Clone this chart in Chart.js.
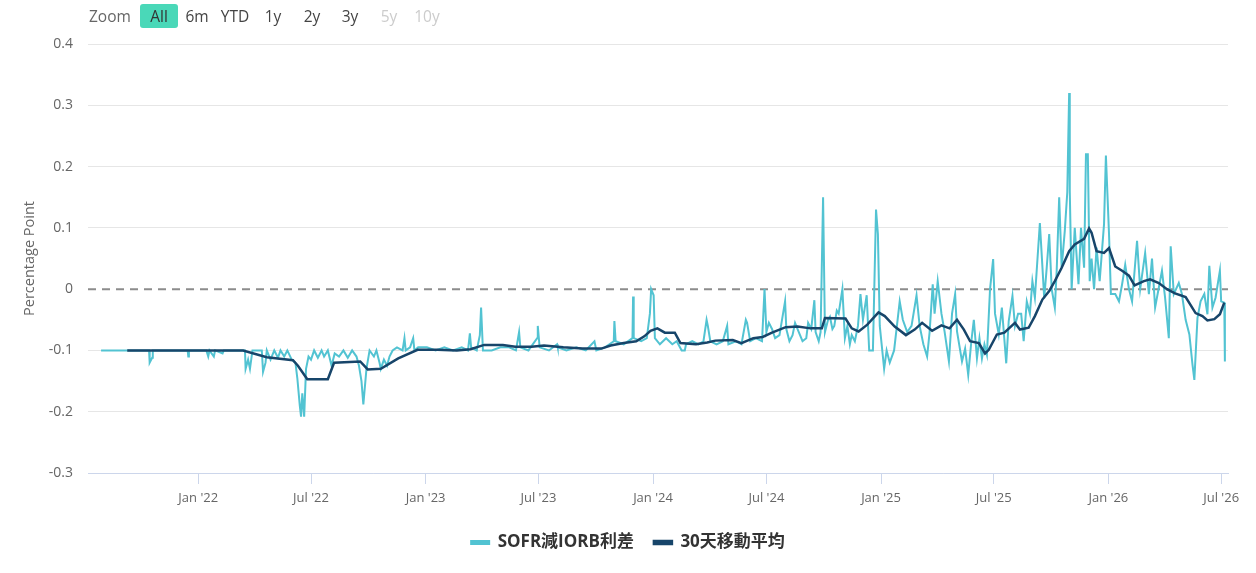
<!DOCTYPE html>
<html>
<head>
<meta charset="utf-8">
<script src="https://cdn.jsdelivr.net/npm/chart.js@4.4.0/dist/chart.umd.min.js"></script>
<style>
  body { margin: 0; background: #fff; font-family: "Open Sans", "Noto Sans CJK TC", sans-serif; }
  #wrap { position: relative; width: 1256px; height: 573px; }
  #zoom { position: absolute; left: 0; top: 0; width: 500px; height: 32px; font-size: 15.5px; color: #666; }
  #zoom span { position: absolute; top: 4px; height: 24px; line-height: 24px; text-align: center; }
  #zoom .btn { width: 38px; margin-left: -19px; border-radius: 3px; color: #444; }
  #zoom .on { background: #4ad8b8; color: #333; }
  #zoom .off { color: #ccc; }
</style>
</head>
<body>
<div id="wrap">
  <canvas id="c" width="1256" height="573"></canvas>
  <div id="zoom">
    <span style="left:89px">Zoom</span>
    <span class="btn on" style="left:159px">All</span>
    <span class="btn" style="left:197px">6m</span>
    <span class="btn" style="left:235px">YTD</span>
    <span class="btn" style="left:273px">1y</span>
    <span class="btn" style="left:312px">2y</span>
    <span class="btn" style="left:350px">3y</span>
    <span class="btn off" style="left:389px">5y</span>
    <span class="btn off" style="left:427px">10y</span>
  </div>
</div>
<script>
// SOFR minus IORB, percentage points
var spreadDates = [
  "2021-07-29","2021-10-14","2021-10-15","2021-10-19","2021-10-20","2021-12-15","2021-12-16","2021-12-17",
  "2022-01-14","2022-01-17","2022-01-19","2022-01-26","2022-01-28","2022-02-09","2022-02-11","2022-03-17",
  "2022-03-18","2022-03-22","2022-03-25","2022-03-29","2022-04-13","2022-04-15","2022-04-19","2022-04-21",
  "2022-04-27","2022-05-03","2022-05-09","2022-05-13","2022-05-19","2022-05-24","2022-05-31","2022-06-06",
  "2022-06-09","2022-06-13","2022-06-15","2022-06-17","2022-06-20","2022-06-23","2022-06-27","2022-07-01",
  "2022-07-06","2022-07-12","2022-07-18","2022-07-22","2022-07-28","2022-08-03","2022-08-08","2022-08-15",
  "2022-08-22","2022-08-29","2022-09-05","2022-09-12","2022-09-16","2022-09-20","2022-09-23","2022-09-28",
  "2022-10-03","2022-10-10","2022-10-14","2022-10-19","2022-10-21","2022-10-26","2022-10-31","2022-11-04",
  "2022-11-09","2022-11-16","2022-11-25","2022-11-28","2022-11-30","2022-12-07","2022-12-12","2022-12-14",
  "2022-12-20","2023-01-03","2023-01-17","2023-01-31","2023-02-14","2023-02-28","2023-03-10","2023-03-13",
  "2023-03-15","2023-03-24","2023-03-29","2023-03-31","2023-04-03","2023-04-17","2023-05-01","2023-05-15",
  "2023-05-26","2023-05-31","2023-06-02","2023-06-15","2023-06-29","2023-06-30","2023-07-03","2023-07-18",
  "2023-07-31","2023-08-01","2023-08-15","2023-08-31","2023-09-15","2023-09-29","2023-10-02","2023-10-16",
  "2023-10-30","2023-10-31","2023-11-02","2023-11-15","2023-11-29","2023-11-30","2023-12-01","2023-12-13",
  "2023-12-22","2023-12-27","2023-12-29","2024-01-02","2024-01-04","2024-01-12","2024-01-22","2024-02-01",
  "2024-02-08","2024-02-16","2024-02-21","2024-02-23","2024-03-04","2024-03-14","2024-03-22","2024-03-27",
  "2024-03-29","2024-04-02","2024-04-12","2024-04-22","2024-04-29","2024-05-01","2024-05-13","2024-05-22",
  "2024-05-29","2024-05-31","2024-06-05","2024-06-14","2024-06-24","2024-06-28","2024-07-01","2024-07-05",
  "2024-07-10","2024-07-15","2024-07-22","2024-07-31","2024-08-02","2024-08-07","2024-08-12","2024-08-16",
  "2024-08-22","2024-08-28","2024-09-03","2024-09-06","2024-09-11","2024-09-16","2024-09-18","2024-09-23",
  "2024-09-26","2024-09-30","2024-10-03","2024-10-08","2024-10-11","2024-10-15","2024-10-18","2024-10-22",
  "2024-10-25","2024-10-31","2024-11-04","2024-11-08","2024-11-12","2024-11-15","2024-11-20","2024-11-25",
  "2024-11-29","2024-12-03","2024-12-09","2024-12-13","2024-12-19","2024-12-24","2024-12-27","2024-12-30",
  "2025-01-06","2025-01-10","2025-01-15","2025-01-22","2025-01-31","2025-02-05","2025-02-12","2025-02-19",
  "2025-02-27","2025-03-04","2025-03-10","2025-03-16","2025-03-20","2025-03-25","2025-03-28","2025-04-02",
  "2025-04-08","2025-04-13","2025-04-20","2025-04-25","2025-04-30","2025-05-03","2025-05-11","2025-05-16",
  "2025-05-21","2025-05-26","2025-05-30","2025-06-04","2025-06-08","2025-06-12","2025-06-16","2025-06-20",
  "2025-06-25","2025-06-30","2025-07-03","2025-07-09","2025-07-14","2025-07-21","2025-07-25","2025-07-31",
  "2025-08-04","2025-08-09","2025-08-14","2025-08-18","2025-08-23","2025-08-28","2025-09-01","2025-09-05",
  "2025-09-13","2025-09-20","2025-09-24","2025-09-28","2025-10-02","2025-10-07","2025-10-10","2025-10-14",
  "2025-10-18","2025-10-23","2025-10-27","2025-10-30","2025-10-31","2025-11-03","2025-11-08","2025-11-14",
  "2025-11-18","2025-11-23","2025-11-26","2025-11-29","2025-12-02","2025-12-05","2025-12-09","2025-12-13",
  "2025-12-18","2025-12-25","2025-12-28","2026-01-02","2026-01-05","2026-01-12","2026-01-18","2026-01-23",
  "2026-01-28","2026-02-03","2026-02-08","2026-02-16","2026-02-21","2026-03-01","2026-03-07","2026-03-12",
  "2026-03-17","2026-03-28","2026-04-02","2026-04-08","2026-04-11","2026-04-16","2026-04-24","2026-04-29",
  "2026-05-05","2026-05-11","2026-05-16","2026-05-19","2026-05-24","2026-05-29","2026-06-04","2026-06-09",
  "2026-06-12","2026-06-17","2026-06-22","2026-06-29","2026-07-01","2026-07-06","2026-07-07"
];
var spreadValues = [
  -0.100,-0.100,-0.120,-0.112,-0.100,-0.100,-0.110,-0.100,
  -0.100,-0.110,-0.100,-0.110,-0.100,-0.105,-0.100,-0.100,
  -0.130,-0.115,-0.130,-0.100,-0.100,-0.135,-0.120,-0.100,
  -0.115,-0.100,-0.112,-0.100,-0.110,-0.100,-0.115,-0.120,
  -0.145,-0.190,-0.208,-0.170,-0.208,-0.130,-0.110,-0.115,
  -0.100,-0.112,-0.100,-0.110,-0.100,-0.125,-0.105,-0.110,
  -0.100,-0.112,-0.100,-0.110,-0.125,-0.150,-0.188,-0.130,
  -0.100,-0.110,-0.100,-0.120,-0.130,-0.115,-0.125,-0.110,
  -0.100,-0.095,-0.100,-0.080,-0.100,-0.095,-0.080,-0.100,
  -0.095,-0.095,-0.100,-0.095,-0.100,-0.095,-0.100,-0.072,
  -0.095,-0.100,-0.075,-0.030,-0.100,-0.100,-0.095,-0.095,
  -0.100,-0.070,-0.095,-0.100,-0.080,-0.060,-0.095,-0.100,
  -0.090,-0.095,-0.100,-0.095,-0.100,-0.085,-0.100,-0.095,
  -0.085,-0.052,-0.085,-0.090,-0.080,-0.012,-0.080,-0.085,
  -0.080,-0.040,0.000,-0.010,-0.080,-0.090,-0.080,-0.090,
  -0.085,-0.100,-0.100,-0.090,-0.085,-0.090,-0.085,-0.050,
  -0.060,-0.085,-0.090,-0.085,-0.060,-0.090,-0.085,-0.090,
  -0.050,-0.055,-0.085,-0.080,-0.085,0.000,-0.070,-0.055,
  -0.065,-0.080,-0.075,-0.020,-0.065,-0.085,-0.075,-0.055,
  -0.070,-0.085,-0.080,-0.055,-0.065,-0.018,-0.070,-0.085,
  -0.070,0.150,-0.070,-0.050,-0.045,-0.065,-0.060,-0.035,
  -0.040,0.000,-0.080,-0.060,-0.090,-0.075,-0.085,-0.060,
  -0.008,-0.050,-0.010,-0.100,-0.100,0.130,0.090,-0.060,
  -0.130,-0.100,-0.120,-0.100,-0.020,-0.050,-0.070,-0.060,
  -0.010,-0.060,-0.090,-0.110,-0.070,0.008,-0.040,0.013,
  -0.040,-0.069,-0.118,-0.040,-0.008,-0.069,-0.118,-0.097,
  -0.140,-0.085,-0.050,-0.113,-0.080,-0.113,-0.090,-0.107,
  0.000,0.049,-0.040,-0.074,-0.030,-0.121,-0.052,-0.011,
  -0.060,-0.040,-0.040,-0.085,-0.020,-0.040,0.013,-0.014,
  0.108,-0.015,0.035,0.090,0.000,-0.030,0.030,0.150,
  0.035,0.095,0.158,0.320,0.160,0.000,0.100,0.008,
  0.100,0.035,0.220,0.220,0.013,0.050,0.000,0.068,
  0.013,0.106,0.218,0.090,-0.008,-0.008,-0.020,0.008,
  0.040,0.000,-0.020,0.079,0.000,0.059,-0.008,0.050,
  -0.030,0.030,-0.014,-0.080,0.070,-0.008,0.010,-0.008,
  -0.050,-0.074,-0.123,-0.148,-0.047,-0.020,-0.008,-0.041,
  0.038,-0.030,-0.014,0.030,-0.020,-0.022,-0.118
];

// 30-day moving average
var meanDates = [
  "2021-09-09","2022-03-14","2022-04-21","2022-06-02","2022-06-10","2022-06-25","2022-07-28","2022-08-07",
  "2022-09-18","2022-09-30","2022-10-21","2022-11-18","2022-12-19","2023-01-20","2023-02-20","2023-03-14",
  "2023-04-05","2023-05-05","2023-05-25","2023-06-20","2023-07-10","2023-08-10","2023-09-10","2023-10-10",
  "2023-10-25","2023-11-15","2023-12-05","2023-12-18","2023-12-28","2024-01-08","2024-01-20","2024-02-05",
  "2024-02-14","2024-03-10","2024-03-28","2024-04-10","2024-05-08","2024-05-22","2024-06-10","2024-06-25",
  "2024-07-10","2024-08-01","2024-08-20","2024-09-10","2024-09-28","2024-10-03","2024-11-05","2024-11-15",
  "2024-11-26","2024-12-10","2024-12-28","2025-01-07","2025-01-23","2025-02-10","2025-02-24","2025-03-08",
  "2025-03-24","2025-04-08","2025-04-21","2025-05-03","2025-05-14","2025-05-24","2025-06-07","2025-06-17",
  "2025-06-23","2025-07-06","2025-07-18","2025-08-04","2025-08-12","2025-08-26","2025-09-05","2025-09-17",
  "2025-09-28","2025-10-07","2025-10-18","2025-10-30","2025-11-08","2025-11-23","2025-12-01","2025-12-05",
  "2025-12-13","2025-12-25","2026-01-02","2026-01-12","2026-01-23","2026-02-03","2026-02-12","2026-02-27",
  "2026-03-09","2026-03-23","2026-04-05","2026-04-18","2026-05-05","2026-05-21","2026-06-01","2026-06-09",
  "2026-06-20","2026-06-29","2026-07-06"
];
var meanValues = [
  -0.100,-0.100,-0.111,-0.116,-0.125,-0.147,-0.147,-0.120,
  -0.118,-0.131,-0.130,-0.113,-0.099,-0.099,-0.100,-0.098,
  -0.091,-0.091,-0.094,-0.094,-0.092,-0.095,-0.097,-0.097,
  -0.092,-0.088,-0.085,-0.077,-0.068,-0.064,-0.071,-0.071,
  -0.088,-0.090,-0.087,-0.084,-0.083,-0.088,-0.080,-0.078,
  -0.071,-0.062,-0.061,-0.064,-0.064,-0.047,-0.048,-0.064,
  -0.069,-0.058,-0.038,-0.044,-0.061,-0.075,-0.066,-0.055,
  -0.068,-0.059,-0.064,-0.050,-0.066,-0.085,-0.088,-0.105,
  -0.099,-0.074,-0.071,-0.055,-0.066,-0.063,-0.044,-0.017,
  -0.003,0.013,0.035,0.062,0.073,0.082,0.099,0.092,
  0.062,0.059,0.067,0.037,0.030,0.022,0.006,0.013,
  0.016,0.010,0.000,-0.007,-0.013,-0.039,-0.044,-0.051,
  -0.049,-0.041,-0.022
];

var xTickDates = ["2022-01-01","2022-07-01","2023-01-01","2023-07-01","2024-01-01",
                  "2024-07-01","2025-01-01","2025-07-01","2026-01-01","2026-07-01"];
var xTickLabels = ["Jan '22","Jul '22","Jan '23","Jul '23","Jan '24",
                   "Jul '24","Jan '25","Jul '25","Jan '26","Jul '26"];

function toPoints(dates, values){
    var pts = [];
    for (var i = 0; i < dates.length; i++) {
        pts.push({x: Date.parse(dates[i]), y: values[i]});
    }
    return pts;
}

var xTickValues = xTickDates.map(function(d){ return Date.parse(d); });
var labelFont = '"Open Sans", "Noto Sans CJK TC", sans-serif';

// dashed zero line, drawn under the series
var zeroLine = {
    id: 'zeroLine',
    beforeDatasetsDraw: function(chart){
        var ctx = chart.ctx, area = chart.chartArea;
        var y = chart.scales.y.getPixelForValue(0);
        ctx.save();
        ctx.strokeStyle = '#8c8c8c';
        ctx.lineWidth = 2;
        ctx.setLineDash([8, 6]);
        ctx.beginPath();
        ctx.moveTo(area.left, y);
        ctx.lineTo(area.right, y);
        ctx.stroke();
        ctx.restore();
    }
};

new Chart(document.getElementById('c'), {
    type: 'line',
    data: {
        datasets: [
            {
                label: 'SOFR減IORB利差',
                data: toPoints(spreadDates, spreadValues),
                borderColor: '#52c3d2',
                backgroundColor: '#52c3d2',
                borderWidth: 2,
                order: 1
            },
            {
                label: '30天移動平均',
                data: toPoints(meanDates, meanValues),
                borderColor: '#17456a',
                backgroundColor: '#17456a',
                borderWidth: 2.5,
                order: 0
            }
        ]
    },
    options: {
        responsive: false,
        animation: false,
        elements: { point: { radius: 0 }, line: { tension: 0 } },
        layout: { padding: { left: 0, right: 0, top: 44, bottom: 12 } },
        plugins: {
            tooltip: { enabled: false },
            legend: {
                position: 'bottom',
                labels: {
                    boxWidth: 18,
                    boxHeight: 3,
                    padding: 20,
                    color: '#333',
                    font: { family: labelFont, size: 17, weight: 'bold' },
                    sort: function(a, b){ return a.datasetIndex - b.datasetIndex; }
                }
            }
        },
        scales: {
            x: {
                type: 'linear',
                min: Date.parse("2021-07-08"),
                max: Date.parse("2026-07-12"),
                afterBuildTicks: function(scale){
                    scale.ticks = xTickValues.map(function(v){ return {value: v}; });
                },
                afterFit: function(scale){ scale.height = 41; },
                ticks: {
                    autoSkip: false,
                    maxRotation: 0,
                    padding: 6,
                    color: '#666',
                    font: { family: labelFont, size: 13 },
                    callback: function(v){
                        var i = xTickValues.indexOf(v);
                        return i >= 0 ? xTickLabels[i] : '';
                    }
                },
                grid: { drawOnChartArea: false, drawTicks: true, tickLength: 11, tickColor: '#ccd6eb' },
                border: { color: '#ccd6eb', width: 1 }
            },
            y: {
                min: -0.3,
                max: 0.4,
                afterFit: function(scale){ scale.width = 88; },
                ticks: {
                    stepSize: 0.1,
                    padding: 15,
                    color: '#666',
                    font: { family: labelFont, size: 14 },
                    callback: function(v){
                        var r = Math.round(v * 10) / 10;
                        return r === 0 ? '0' : r.toString();
                    }
                },
                grid: {
                    drawTicks: false,
                    color: function(c){ return Math.abs(c.tick.value) < 1e-9 ? 'rgba(0,0,0,0)' : '#e6e6e6'; }
                },
                border: { display: false },
                title: {
                    display: true,
                    text: 'Percentage Point',
                    color: '#666',
                    font: { family: labelFont, size: 14.5 },
                    padding: { top: 21, bottom: 0 }
                }
            },
            // empty right-hand margin so the legend centres on the full width
            yRight: {
                position: 'right',
                display: true,
                afterFit: function(scale){ scale.width = 28; },
                ticks: { display: false },
                grid: { display: false },
                border: { display: false }
            }
        }
    },
    plugins: [zeroLine]
});
</script>
</body>
</html>
